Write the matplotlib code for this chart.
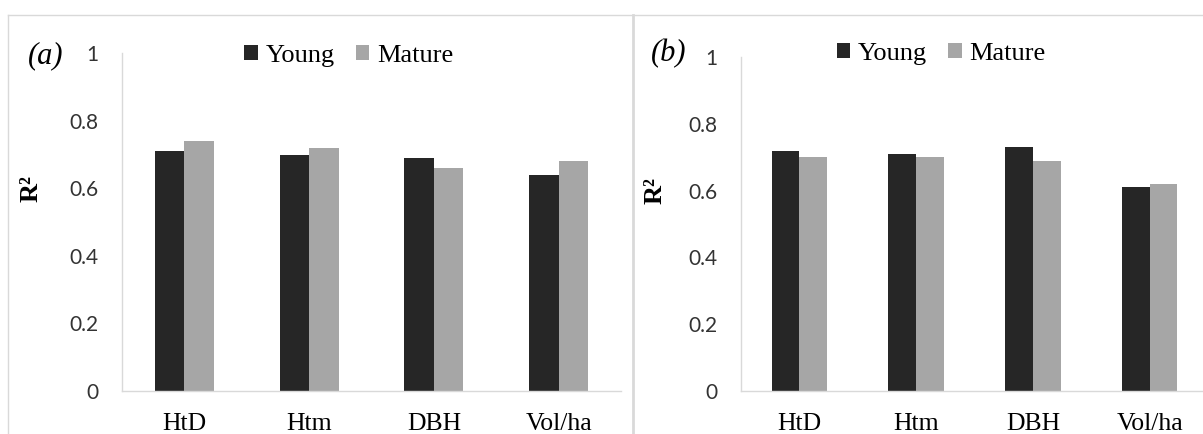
import numpy as np
import matplotlib.pyplot as plt
from matplotlib.lines import Line2D

categories = ["HtD", "Htm", "DBH", "Vol/ha"]
young_a = [0.71, 0.70, 0.69, 0.64]
mature_a = [0.74, 0.72, 0.66, 0.68]
young_b = [0.72, 0.71, 0.73, 0.61]
mature_b = [0.70, 0.70, 0.69, 0.62]
yticks = [0, 0.2, 0.4, 0.6, 0.8, 1]
ytick_labels = ["0", "0.2", "0.4", "0.6", "0.8", "1"]

W, H = 1203, 434
DARK = "#262626"
LIGHT = "#a6a6a6"
GRID = "#d9d9d9"
SERIF = "Liberation Serif"


def px(x, y):
    # pixel coords (from top-left) -> figure fraction
    return x / W, 1 - y / H


def draw_panel(ax, young, mature):
    x = np.arange(len(categories))
    w = 0.237
    ax.bar(x - w / 2, young, w, color=DARK, label="Young")
    ax.bar(x + w / 2, mature, w, color=LIGHT, label="Mature")
    ax.set_xlim(-0.5, len(categories) - 0.5)
    ax.set_ylim(0, 1)
    for s in ["top", "right"]:
        ax.spines[s].set_visible(False)
    for s in ["left", "bottom"]:
        ax.spines[s].set_color(GRID)
        ax.spines[s].set_linewidth(1.0)
    ax.set_yticks(yticks)
    ax.set_yticklabels(ytick_labels, fontfamily="Lato", fontsize=15, color="#333333")
    ax.set_xticks(x)
    ax.set_xticklabels(categories, fontfamily=SERIF, fontsize=18.5)
    ax.tick_params(axis="y", length=0, pad=17)
    ax.tick_params(axis="x", length=0, pad=16)
    ax.set_facecolor("none")


fig = plt.figure(figsize=(W / 100, H / 100), dpi=100)

ax_a = fig.add_axes([122 / W, (H - 390.7) / H, 499 / W, (390.7 - 53.3) / H])
ax_b = fig.add_axes([741 / W, (H - 390.7) / H, 467 / W, (390.7 - 57.3) / H])
draw_panel(ax_a, young_a, mature_a)
draw_panel(ax_b, young_b, mature_b)

# legends
for ax, cx, cy in [(ax_a, 348.7, 56), (ax_b, 941.5, 54)]:
    ax.legend(loc="center", bbox_to_anchor=px(cx, cy), bbox_transform=fig.transFigure,
              ncol=2, frameon=False, borderpad=0, handlelength=0.5, handleheight=0.5,
              handletextpad=0.3, columnspacing=0.8,
              prop={"family": SERIF, "size": 19})

# panel letters and y labels
fig.text(*px(46, 56), "(a)", family=SERIF, style="italic", fontsize=22, ha="center", va="center")
fig.text(*px(669, 54), "(b)", family=SERIF, style="italic", fontsize=22, ha="center", va="center")
fig.text(*px(30.6, 188), "R²", family=SERIF, weight="bold", fontsize=19,
         rotation=90, ha="center", va="center")
fig.text(*px(655.5, 190), "R²", family=SERIF, weight="bold", fontsize=19,
         rotation=90, ha="center", va="center")

# panel borders
fig.add_artist(Line2D([8 / W, 1], [1 - 14.7 / H] * 2, color=GRID, lw=1.0,
                      transform=fig.transFigure))
fig.add_artist(Line2D([8 / W] * 2, [0, 1 - 14.7 / H], color=GRID, lw=1.0,
                      transform=fig.transFigure))
fig.add_artist(Line2D([632.7 / W] * 2, [0, 1 - 14.7 / H], color=GRID, lw=2.0,
                      transform=fig.transFigure))

fig.savefig("out.png", dpi=100)
